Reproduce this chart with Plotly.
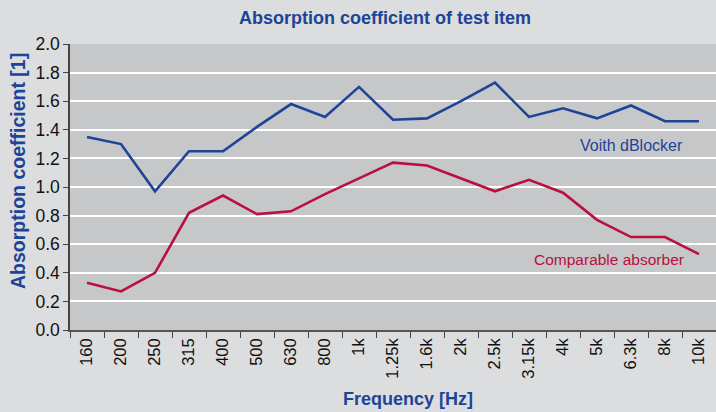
import plotly.graph_objects as go

freqs = ["160", "200", "250", "315", "400", "500", "630", "800", "1k", "1.25k",
         "1.6k", "2k", "2.5k", "3.15k", "4k", "5k", "6.3k", "8k", "10k"]
voith = [1.35, 1.30, 0.97, 1.25, 1.25, 1.42, 1.58, 1.49, 1.70, 1.47,
         1.48, 1.60, 1.73, 1.49, 1.55, 1.48, 1.57, 1.46, 1.46]
comparable = [0.33, 0.27, 0.40, 0.82, 0.94, 0.81, 0.83, 0.95, 1.06, 1.17,
              1.15, 1.06, 0.97, 1.05, 0.96, 0.77, 0.65, 0.65, 0.53]
y_ticks = [0.0, 0.2, 0.4, 0.6, 0.8, 1.0, 1.2, 1.4, 1.6, 1.8, 2.0]

BLUE = "#1d4496"
RED = "#b8103f"
FONT = "Liberation Sans, Arial, sans-serif"

fig = go.Figure()
fig.add_trace(go.Scatter(x=freqs, y=voith, mode="lines", name="Voith dBlocker",
                         line=dict(color=BLUE, width=2.6)))
fig.add_trace(go.Scatter(x=freqs, y=comparable, mode="lines", name="Comparable absorber",
                         line=dict(color=RED, width=2.6)))

fig.add_annotation(x=1.0, xref="paper", y=1.29, yref="y", text="Voith dBlocker",
                   showarrow=False, xanchor="right", xshift=-31,
                   font=dict(family=FONT, size=16, color=BLUE))
fig.add_annotation(x=1.0, xref="paper", y=0.49, yref="y", text="Comparable absorber",
                   showarrow=False, xanchor="right", xshift=-30,
                   font=dict(family=FONT, size=15.5, color=RED))

# titles as annotations for precise placement
fig.add_annotation(x=0.4876, xref="paper", y=1.091, yref="paper",
                   text="<b>Absorption coefficient of test item</b>", showarrow=False,
                   xanchor="center", yanchor="middle",
                   font=dict(family=FONT, size=18, color=BLUE))
fig.add_annotation(x=-0.0805, xref="paper", y=0.556, yref="paper",
                   text="<b>Absorption coefficient [1]</b>", showarrow=False, textangle=-90,
                   xanchor="center", yanchor="middle",
                   font=dict(family=FONT, size=19.5, color=BLUE))
fig.add_annotation(x=0.523, xref="paper", y=-0.241, yref="paper",
                   text="<b>Frequency [Hz]</b>", showarrow=False,
                   xanchor="center", yanchor="middle",
                   font=dict(family=FONT, size=18, color=BLUE))

fig.update_layout(
    width=716, height=412,
    margin=dict(l=70, r=0, t=44, b=82, autoexpand=False),
    paper_bgcolor="#dcdddf",
    plot_bgcolor="#c6c7c9",
    showlegend=False,
    font=dict(family=FONT, size=16, color="#111111"),
)
fig.update_xaxes(
    type="category", tickson="boundaries", ticks="outside", ticklen=6, tickcolor="#444",
    tickangle=-90, showgrid=False, showline=True, linecolor="#555", linewidth=1.5,
    tickfont=dict(family=FONT, size=16.5, color="#111"),
    range=[-0.5, len(freqs) - 0.5], automargin=False,
)
fig.update_yaxes(
    range=[0, 2.0], tickvals=y_ticks, ticktext=[f"{v:.1f}" for v in y_ticks],
    ticks="outside", ticklen=5, tickcolor="#444",
    showgrid=True, gridcolor="#ffffff", gridwidth=2,
    showline=True, linecolor="#444", linewidth=1.5, zeroline=False,
    tickfont=dict(family=FONT, size=17.5, color="#111"), automargin=False,
)

fig.write_html("out.html",
               config={"displayModeBar": False},
               post_script="document.body.style.margin='0';document.body.style.overflow='hidden';")
